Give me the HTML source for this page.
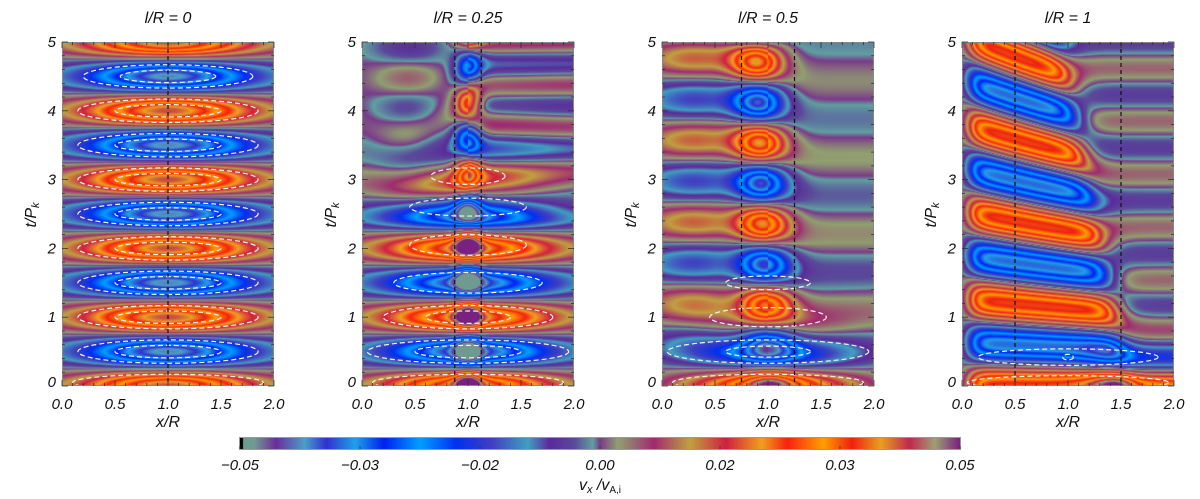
<!DOCTYPE html>
<html><head><meta charset="utf-8"><style>
html,body{margin:0;padding:0;background:#fff;}
#root{position:relative;width:1200px;height:499px;overflow:hidden;background:#fff;}
canvas{position:absolute;}
svg{position:absolute;left:0;top:0;}
text{font-family:"Liberation Sans",sans-serif;font-style:italic;fill:#111;}
</style></head><body>
<div id="root">
<svg id="ov" width="1200" height="499"></svg>
</div>
<script>
// ---- data ----
const panelL = [0, 0.25, 0.5, 1];
const panelTitles = ["l/R = 0", "l/R = 0.25", "l/R = 0.5", "l/R = 1"];
const xTickVals = [0, 0.5, 1, 1.5, 2];
const xTickLabels = ["0.0", "0.5", "1.0", "1.5", "2.0"];
const yTickVals = [0, 1, 2, 3, 4, 5];
const cbTickVals = [-0.05, -0.03333, -0.01667, 0, 0.01667, 0.03333, 0.05];
const cbTickLabels = ["\u22120.05", "\u22120.03", "\u22120.02", "0.00", "0.02", "0.03", "0.05"];
// colormap stops: position (0..1 over -0.05..0.05), colour
const cmPos = [0,0.008,0.02,0.05,0.09,0.12,0.16,0.2,0.25,0.3,0.35,0.4,0.43,0.465,0.49,0.5,
               0.525,0.575,0.625,0.675,0.725,0.76,0.81,0.85,0.89,0.93,0.965,1];
const cmCol = ["#000000","#6f9a90","#6f9a90","#6a2e9a","#4aa0c8","#3030d0","#20a0e8","#0020f0","#00a0ff","#0030f0","#4040c0","#40a0c0","#5a2a9a","#5a4a9a","#60a0a0","#7a3a8a",
               "#90a070","#a02a70","#c0a040","#d02040","#f0a020","#f82010","#ffa000","#f02010","#e8a020","#c02850","#a0a070","#7a2080"];
// dashed contour ellipses per panel: [x centre, t centre, x radius, t radius]
const ellipses = [
 [[1,0.5,0.85,0.17],[1,0.5,0.5,0.09],[1,1,0.85,0.17],[1,1,0.5,0.09],[1,1.5,0.85,0.17],[1,1.5,0.5,0.09],[1,2,0.85,0.17],[1,2,0.5,0.09],[1,2.5,0.85,0.17],[1,2.5,0.5,0.09],[1,3,0.85,0.17],[1,3,0.5,0.09],[1,3.5,0.85,0.17],[1,3.5,0.5,0.09],[1,4,0.85,0.17],[1,4,0.5,0.09],[1,4.5,0.8,0.17],[1,4.5,0.45,0.09],[1,0.05,0.9,0.12]],
 [[1,0.5,0.95,0.17],[1,0.5,0.5,0.09],[1,1,0.8,0.17],[1,1,0.4,0.09],[1,1.5,0.7,0.15],[1,2.05,0.55,0.15],[1,2.6,0.55,0.13],[1,3.05,0.35,0.12],[1,0.05,0.9,0.12]],
 [[1,0.5,0.95,0.17],[1,0.5,0.4,0.08],[1,1.0,0.55,0.14],[1,1.5,0.4,0.1],[1,0.05,0.9,0.12]],
 [[1,0.42,0.85,0.12],[1,0.42,0.05,0.04],[1,0.05,0.95,0.1]]
];
// ---- geometry ----
const PX0 = 62, PSTEP = 300, PW = 212, PY0 = 42, PH = 344;
function xs(i, x){ return PX0 + PSTEP*i + x/2*PW; }
function ys(t){ return PY0 + PH - t/5*PH; }
const CBX0 = 240, CBX1 = 960, CBY = 438, CBH = 11;
function cbx(v){ return CBX0 + (v+0.05)/0.1*(CBX1-CBX0); }

function hex(c){ return [parseInt(c.substr(1,2),16),parseInt(c.substr(3,2),16),parseInt(c.substr(5,2),16)]; }
const allCol = cmCol.map(hex);
function cmap(v){
  let p = (v+0.05)/0.1; if(p<0.009)p=0.009; if(p>1)p=1;
  for(let k=0;k<cmPos.length-1;k++){
    if(p<=cmPos[k+1]){ const f=(p-cmPos[k])/(cmPos[k+1]-cmPos[k]); const a=allCol[k],b=allCol[k+1];
      return [a[0]+(b[0]-a[0])*f,a[1]+(b[1]-a[1])*f,a[2]+(b[2]-a[2])*f]; }
  }
  return allCol[allCol.length-1];
}
const TAU = 2*Math.PI;
function S(z){ return 1/(1+Math.exp(-z)); }
function field(i, x, t){
  if(i===0){
    const A = 0.006 + 0.036*Math.exp(-Math.pow((x-1)/0.75,2));
    return A*Math.cos(TAU*t);
  }
  if(i===1){
    const g = 0.006 + 0.034*Math.exp(-Math.pow((x-1)/0.75,2));
    const dec = Math.exp(-Math.max(0,t-2.4)*1.4);
    let v = g*dec*Math.cos(TAU*t);
    v += 0.025*Math.exp(-Math.pow((x-1.0)/0.12,2))*Math.cos(TAU*t*0.97);
    if(x>1) v += 0.008*(1-dec)*Math.cos(TAU*t*1.6);
    else v += 0.007*(1-dec)*Math.cos(TAU*t*1.1+0.5)*Math.exp(-Math.pow((x-0.45)/0.35,2));
    return v;
  }
  if(i===2){
    let v = 0;
    const early = Math.exp(-Math.pow(t/0.75,2));
    v += 0.035*early*Math.exp(-Math.pow((x-1)/0.8,2))*Math.cos(TAU*t);
    if(x<1) v += 0.015*(1-early)*Math.exp(-Math.pow((x-0.3)/0.55,2))*Math.cos(TAU*t*0.84);
    v += 0.006*(1-early)*S((x-1.15)/0.05)*Math.cos(TAU*t*0.9)*Math.exp(-t/4);
    const xc = 1.02 - 0.025*t;
    v += 0.035*(1-early*0.5)*Math.exp(-Math.pow((x-xc)/0.24,2))*Math.cos(TAU*t*0.85);
    return v;
  }
  // i===3
  const f = 0.87 + 0.1*(x-0.85);
  const A = 0.036*S((x-0.08)/0.05)*S(((1.58-0.13*t)-x)/0.07);
  let v = A*Math.cos(TAU*f*t);
  v += 0.005*(1-S(((1.58-0.13*t)-x)/0.07))*Math.cos(TAU*t*1.3);
  v += 0.025*Math.exp(-Math.pow(t/0.6,2))*S((x-1.3)/0.1)*Math.cos(TAU*t);
  return v;
}
const root = document.getElementById('root');
const ov = document.getElementById('ov');
const NS = "http://www.w3.org/2000/svg";
function mk(tag, attrs, parent){ const e=document.createElementNS(NS,tag); for(const k in attrs) e.setAttribute(k,attrs[k]); (parent||ov).appendChild(e); return e; }

for(let i=0;i<4;i++){
  const cv = document.createElement('canvas');
  
  
  cv.width = PW; cv.height = PH;
  cv.style.left = (PX0+PSTEP*i)+'px'; cv.style.top = PY0+'px';
  root.insertBefore(cv, ov);
  const ctx = cv.getContext('2d');
  const img = ctx.createImageData(PW, PH);
  for(let py=0;py<PH;py++){
    const t = (PH-py-0.5)/PH*5;
    for(let px=0;px<PW;px++){
      const x = (px+0.5)/PW*2;
      const c = cmap(field(i,x,t));
      const o = (py*PW+px)*4;
      img.data[o]=c[0]; img.data[o+1]=c[1]; img.data[o+2]=c[2]; img.data[o+3]=255;
    }
  }
  ctx.putImageData(img,0,0);

  const g = mk('g',{});
  
  
  ellipses[i].forEach(function(e){
    const el = mk('ellipse',{cx:xs(i,e[0]),cy:ys(e[1]),rx:e[2]/2*PW,ry:e[3]/5*PH,fill:'none',stroke:'#f4f0f0','stroke-width':1.2,'stroke-dasharray':'5,3'},g);
    
    
  });
  const L = panelL[i];
  const bl = L===0 ? [1] : [1-L/2, 1+L/2];
  bl.forEach(function(b){
    const ln = mk('line',{x1:xs(i,b),x2:xs(i,b),y1:PY0,y2:PY0+PH,stroke:'#111','stroke-width':1.2,'stroke-dasharray':'4,3'},g);
    
    
  });
  const fr = mk('rect',{x:PX0+PSTEP*i+0.5,y:PY0+0.5,width:PW-1,height:PH-1,fill:'none',stroke:'#888','stroke-width':1},g);
  
  
  for(let k=0;k<=20;k++){
    const x=k*0.1, len=(k%5===0)?6:3;
    mk('line',{x1:xs(i,x),x2:xs(i,x),y1:PY0+PH,y2:PY0+PH-len,stroke:'#333','stroke-width':0.8},g);
    mk('line',{x1:xs(i,x),x2:xs(i,x),y1:PY0,y2:PY0+len,stroke:'#333','stroke-width':0.8},g);
  }
  for(let k=0;k<=25;k++){
    const t=k*0.2, len=(k%5===0)?6:3;
    mk('line',{x1:PX0+PSTEP*i,x2:PX0+PSTEP*i+len,y1:ys(t),y2:ys(t),stroke:'#333','stroke-width':0.8},g);
    mk('line',{x1:PX0+PSTEP*i+PW,x2:PX0+PSTEP*i+PW-len,y1:ys(t),y2:ys(t),stroke:'#333','stroke-width':0.8},g);
  }
  xTickVals.forEach(function(v,k){
    const tx = mk('text',{x:xs(i,v),y:409,'font-size':15,'text-anchor':'middle'},g);
    tx.textContent = xTickLabels[k];
    
    
  });
  yTickVals.forEach(function(v){
    const tx = mk('text',{x:PX0+PSTEP*i-6,y:ys(v)+(v===0?1:5),'font-size':15,'text-anchor':'end'},g);
    tx.textContent = String(v);
    
    
  });
  const xl = mk('text',{x:xs(i,1),y:427,'font-size':16,'text-anchor':'middle','font-family':'Liberation Serif'},g);
  xl.textContent = 'x/R';
  
  
  const yl = mk('text',{x:0,y:0,'font-size':16,'text-anchor':'middle','font-family':'Liberation Serif',transform:'translate('+(PX0+PSTEP*i-26)+',215) rotate(-90)'},g);
  yl.innerHTML = 't/P<tspan font-size="11" dy="3">k</tspan>';
  
  
  const tt = mk('text',{x:xs(i,1),y:23,'font-size':16,'text-anchor':'middle','font-family':'Liberation Serif'},g);
  tt.textContent = panelTitles[i];
  
  
}
const cb = document.createElement('canvas');


cb.width = CBX1-CBX0; cb.height = CBH;
cb.style.left = CBX0+'px'; cb.style.top = CBY+'px';
root.insertBefore(cb, ov);
(function(){
  const ctx = cb.getContext('2d');
  for(let px=0;px<cb.width;px++){
    const v = -0.05 + (px+0.5)/cb.width*0.1;
    const c = px<3 ? [0,0,0] : cmap(v);
    ctx.fillStyle = 'rgb('+Math.round(c[0])+','+Math.round(c[1])+','+Math.round(c[2])+')';
    ctx.fillRect(px,0,1,CBH);
  }
})();
const cbg = mk('g',{});


mk('rect',{x:CBX0-0.5,y:CBY-0.5,width:CBX1-CBX0+1,height:CBH+1,fill:'none',stroke:'#999','stroke-width':1},cbg);
cbTickVals.forEach(function(v,k){
  mk('line',{x1:cbx(v),x2:cbx(v),y1:CBY+CBH,y2:CBY+CBH-3,stroke:'#333','stroke-width':0.8},cbg);
  const tx = mk('text',{x:cbx(v),y:470,'font-size':15,'text-anchor':'middle'},cbg);
  tx.textContent = cbTickLabels[k];
  
  
});
const cbt = mk('text',{x:600,y:490,'font-size':16,'text-anchor':'middle','font-family':'Liberation Serif'},cbg);
cbt.innerHTML = 'v<tspan font-size="11" dy="3">x</tspan><tspan dy="-3"> /v</tspan><tspan font-size="10" dy="3" font-style="normal" font-family="Liberation Sans">A,i</tspan>';


</script>
</body></html>
